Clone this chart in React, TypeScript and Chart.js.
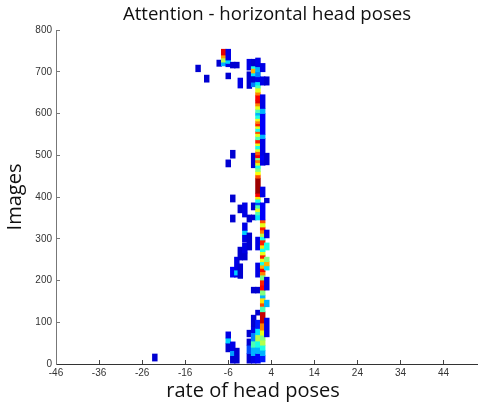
import React, { useEffect, useRef } from 'react';
import { Chart, registerables } from 'chart.js';

Chart.register(...registerables);

const chartTitle = 'Attention - horizontal head poses';
const xTitle = 'rate of head poses';
const yTitle = 'Images';

const xTicks = [-46, -36, -26, -16, -6, 4, 14, 24, 34, 44];
const yTicks = [0, 100, 200, 300, 400, 500, 600, 700, 800];

// column centres (rate of head poses)
const columnX = [-23.05, -13.0, -11.0, -8.1, -7.05, -6.0, -4.95, -4.0, -3.2, -2.15, -1.1, -0.1, 0.9, 2.0, 2.95];

// runs per column: [fromImage, toImage, colour level 0..1 (jet)]
const runsM23 = [[7, 24, 0.08]];
const runsM13 = [[700, 716, 0.08]];
const runsM11 = [[675, 692, 0.08]];
const runsM8 = [[713, 728, 0.08]];
const runsM7 = [[714, 723, 0.3], [723, 733, 0.55], [733, 740, 0.72], [740, 754, 0.9]];
const runsM6 = [[29, 50, 0.08], [50, 62, 0.33], [62, 77, 0.1], [472, 489, 0.08], [683, 697, 0.08], [712, 720, 0.1], [720, 728, 0.33], [728, 754, 0.1]];
const runsM5 = [[2, 20, 0.08], [20, 32, 0.28], [32, 53, 0.1], [208, 232, 0.12], [340, 357, 0.08], [388, 405, 0.08], [493, 512, 0.08], [709, 723, 0.08]];
const runsM4 = [[2, 38, 0.08], [208, 213, 0.1], [213, 225, 0.33], [225, 256, 0.1], [709, 723, 0.08]];
const runsM3 = [[205, 240, 0.08], [249, 280, 0.08], [362, 381, 0.08], [661, 685, 0.1]];
const runsM2 = [[249, 266, 0.08], [266, 290, 0.1], [292, 310, 0.1], [310, 320, 0.33], [320, 338, 0.1], [352, 386, 0.1]];
const runsM1 = [[2, 25, 0.08], [25, 45, 0.2], [45, 60, 0.08], [65, 81, 0.08], [273, 314, 0.08], [340, 357, 0.08], [660, 700, 0.08], [704, 730, 0.1]];
const runsM0 = [[2, 20, 0.1], [20, 40, 0.3], [40, 55, 0.45], [55, 75, 0.25], [75, 89, 0.1], [89, 117, 0.08], [170, 184, 0.08], [345, 357, 0.08], [369, 386, 0.08], [470, 505, 0.08], [664, 675, 0.25], [675, 690, 0.08], [690, 697, 0.35], [697, 708, 0.7], [708, 714, 0.4], [714, 730, 0.08]];
const runsP1 = [
  [2, 25, 0.12], [25, 40, 0.3], [40, 55, 0.4], [55, 70, 0.55], [70, 85, 0.35], [85, 105, 0.15], [117, 129, 0.08], [170, 184, 0.08], [208, 242, 0.1], [273, 304, 0.1],
  [345, 357, 0.35], [357, 365, 0.45], [365, 373, 0.6], [373, 381, 0.45], [381, 387, 0.2], [387, 395, 0.4], [395, 401, 0.65], [401, 409, 0.88], [409, 445, 0.97],
  [445, 453, 0.8], [453, 461, 0.62], [461, 469, 0.5], [469, 476, 0.4], [476, 482, 0.6], [482, 489, 0.75], [489, 494, 0.5], [494, 501, 0.88], [501, 509, 0.78],
  [509, 515, 0.6], [515, 523, 0.4], [523, 529, 0.6], [529, 537, 0.85], [537, 545, 0.45], [545, 552, 0.6], [552, 557, 0.8], [557, 564, 0.4], [564, 570, 0.6],
  [570, 576, 0.85], [576, 582, 0.75], [582, 588, 0.6], [588, 596, 0.4], [596, 602, 0.3], [602, 610, 0.45], [610, 618, 0.6], [618, 625, 0.75], [625, 632, 0.9],
  [632, 644, 0.88], [644, 651, 0.75], [651, 661, 0.6], [661, 668, 0.45], [668, 676, 0.35], [676, 688, 0.1], [688, 700, 0.25], [700, 712, 0.3], [712, 733, 0.1],
];
const runsP2 = [
  [5, 20, 0.15], [20, 33, 0.3], [33, 45, 0.4], [45, 57, 0.55], [57, 69, 0.5], [69, 81, 0.6], [81, 98, 0.75], [98, 125, 0.93], [125, 138, 0.45], [138, 146, 0.8],
  [146, 158, 0.65], [158, 165, 0.3], [165, 177, 0.5], [177, 189, 0.88], [189, 201, 0.85], [201, 213, 0.5], [213, 221, 0.75], [221, 229, 0.88], [229, 237, 0.7],
  [237, 245, 0.4], [245, 253, 0.6], [253, 261, 0.85], [261, 269, 0.6], [269, 277, 0.4], [277, 285, 0.65], [285, 297, 0.85], [297, 305, 0.4], [305, 313, 0.55],
  [313, 321, 0.75], [321, 328, 0.85], [328, 338, 0.6], [338, 345, 0.8],
  [345, 386, 0.12], [400, 424, 0.1], [476, 489, 0.1], [489, 500, 0.12], [500, 540, 0.1], [540, 550, 0.3], [550, 600, 0.12], [600, 612, 0.3], [612, 645, 0.1],
  [668, 688, 0.1], [700, 720, 0.1],
];
const runsP3 = [[65, 110, 0.1], [137, 153, 0.3], [177, 208, 0.1], [225, 235, 0.35], [235, 245, 0.7], [245, 256, 0.5], [273, 290, 0.4], [302, 321, 0.1], [386, 397, 0.08], [477, 505, 0.08], [668, 688, 0.08]];

const columnRuns = [runsM23, runsM13, runsM11, runsM8, runsM7, runsM6, runsM5, runsM4, runsM3, runsM2, runsM1, runsM0, runsP1, runsP2, runsP3];

function clamp01(v: number) {
  return Math.max(0, Math.min(1, v));
}
function jet(v: number) {
  const r = clamp01(Math.min(4 * v - 1.5, -4 * v + 4.5));
  const g = clamp01(Math.min(4 * v - 0.5, -4 * v + 3.5));
  const b = clamp01(Math.min(4 * v + 0.5, -4 * v + 2.5));
  return `rgb(${Math.round(r * 255)},${Math.round(g * 255)},${Math.round(b * 255)})`;
}

// x-axis title drawn under the axis, slightly left of the plot centre as in the source figure
const xTitlePlugin = {
  id: 'xTitlePlugin',
  afterDraw(chart: any) {
    const { ctx, chartArea } = chart;
    ctx.save();
    ctx.font = '20px "Open Sans"';
    ctx.fillStyle = '#111';
    ctx.textAlign = 'center';
    ctx.textBaseline = 'middle';
    ctx.fillText(xTitle, (chartArea.left + chartArea.right) / 2 - 14, chartArea.bottom + 27);
    ctx.restore();
  },
};

export default function App() {
  const ref = useRef<HTMLCanvasElement>(null);
  useEffect(() => {
    const cells: any[] = [];
    const colors: string[] = [];
    columnX.forEach((x, i) => {
      columnRuns[i].forEach(([y0, y1, v]) => {
        cells.push({ x, y: [y0, y1] });
        colors.push(jet(v));
      });
    });
    const tickFont = { family: 'Liberation Sans', size: 10 };
    const chart = new Chart(ref.current as HTMLCanvasElement, {
      type: 'bar',
      data: {
        datasets: [
          {
            data: cells,
            backgroundColor: colors,
            borderWidth: 0,
            barThickness: 4.8,
            grouped: false,
          } as any,
        ],
      },
      plugins: [xTitlePlugin],
      options: {
        animation: false,
        responsive: false,
        events: [],
        layout: { padding: 0 },
        plugins: {
          legend: { display: false },
          tooltip: { enabled: false },
          title: {
            display: true,
            text: chartTitle,
            fullSize: false,
            color: '#111',
            font: { family: 'Open Sans', size: 18.6, weight: 'normal' },
            padding: { top: 3.5, bottom: 4.2 },
          },
        },
        scales: {
          x: {
            type: 'linear',
            min: -46,
            max: 52,
            offset: false,
            afterBuildTicks: (s: any) => {
              s.ticks = xTicks.map((value) => ({ value }));
            },
            afterFit: (s: any) => {
              s.height = 42;
            },
            grid: { display: true, drawOnChartArea: false, drawTicks: true, tickLength: -4, color: '#444', offset: false },
            border: { display: true, color: '#333' },
            ticks: { font: tickFont, color: '#333', padding: 7, maxRotation: 0, autoSkip: false },
            title: { display: false },
          },
          y: {
            type: 'linear',
            min: 0,
            max: 800,
            afterBuildTicks: (s: any) => {
              s.ticks = yTicks.map((value) => ({ value }));
            },
            afterFit: (s: any) => {
              s.width = 56;
            },
            grid: { display: true, drawOnChartArea: false, drawTicks: true, tickLength: -4, color: '#777' },
            border: { display: true, color: '#777' },
            ticks: { font: tickFont, color: '#333', padding: 8 },
            title: { display: true, text: yTitle, color: '#111', font: { family: 'Open Sans', size: 20 }, padding: { top: 3, bottom: 0 } },
          },
        },
      } as any,
    });
    return () => chart.destroy();
  }, []);
  return (
    <div style={{ position: 'absolute', left: 0, top: 0, width: 478, height: 406, background: '#fff' }}>
      <canvas ref={ref} width={478} height={406} style={{ display: 'block' }} />
    </div>
  );
}
